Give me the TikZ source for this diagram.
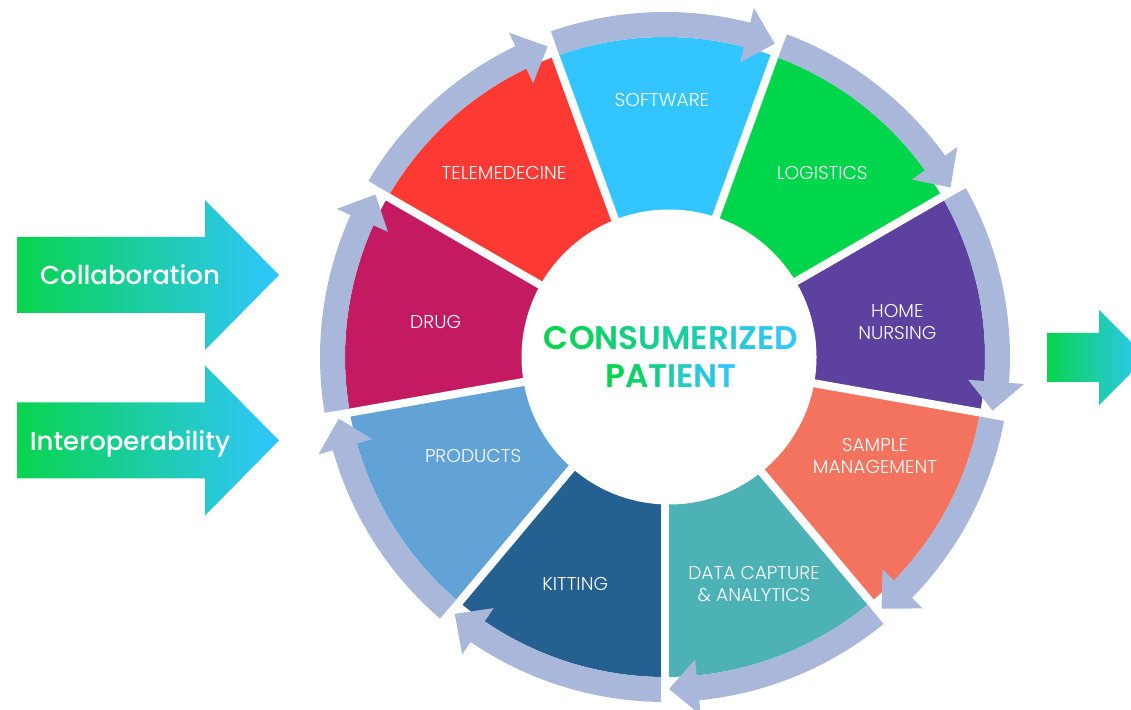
\documentclass[tikz,border=0pt]{standalone}
\usepackage{fontspec}
\setmainfont{Poppins}
\newfontfamily\lightfont{Poppins Light}
\newfontfamily\medfont{Poppins Medium}
\newfontfamily\semifont{Poppins SemiBold}

\definecolor{ring}{RGB}{169,183,219}
\definecolor{ggreen}{RGB}{8,212,78}
\definecolor{gcyan}{RGB}{48,198,255}
\definecolor{csoft}{RGB}{50,197,255}
\definecolor{clogi}{RGB}{0,214,76}
\definecolor{chome}{RGB}{92,66,158}
\definecolor{csamp}{RGB}{243,115,94}
\definecolor{cdata}{RGB}{77,178,182}
\definecolor{ckit}{RGB}{36,97,145}
\definecolor{cprod}{RGB}{97,163,215}
\definecolor{cdrug}{RGB}{195,26,97}
\definecolor{ctele}{RGB}{252,57,50}

\newcommand\fadeword[2]{\foreach \ltr [count=\i, evaluate=\i as \pc using {int((\i-1)*100/#1)}] in {#2}{\textcolor{gcyan!\pc!ggreen}{\ltr}}}

\begin{document}
\begin{tikzpicture} [x=1pt,y=1pt,
  seglabel/.style={text=white,font=\lightfont\fontsize{18.6}{22}\selectfont,align=center},
  bigarrow/.style={left color=ggreen,right color=gcyan},
  arrowtext/.style={text=white,font=\medfont\fontsize{26}{26}\selectfont,anchor=base},
  centertext/.style={font=\semifont\fontsize{32.7}{32.7}\selectfont,anchor=base}]% 1px = 1pt
\useasboundingbox (0,0) rectangle (1131,709);
\clip (0,0) rectangle (1131,709);
\begin{scope}[shift={(665,352)}]
\foreach \b/\col in {110/csoft,70/clogi,30/chome,-10/csamp,-50/cdata,-90/ckit,-130/cprod,-170/cdrug,150/ctele}
  \fill[\col] (0,0) -- (\b:320pt) arc[start angle=\b, delta angle=-40, radius=320pt] -- cycle;
\foreach \b in {30,70,...,350}
  \draw[white,line width=8pt] (0,0) -- (\b:321pt);
\fill[white] (4,0) circle[radius=147.5pt];
% ring arrows, clockwise
\foreach \b in {30,70,...,350}
  \fill[ring] (\b-0.7:345pt) arc[start angle=\b-0.7, end angle=\b-34.3, radius=345pt]
    -- (\b-34.3:360pt) -- (\b-39.3:332pt) -- (\b-34.3:304pt) -- (\b-34.3:320pt)
    arc[start angle=\b-34.3, end angle=\b-0.7, radius=320pt] -- cycle;
\foreach \a/\r/\nm/\txt in {90.7/257/soft/SOFTWARE, 49.5/242/logi/LOGISTICS,
    8.6/235/home/{HOME\\NURSING}, -25.2/232/samp/{SAMPLE\\MANAGEMENT},
    -68.6/244/data/{DATA CAPTURE\\\& ANALYTICS}, -111.6/244/kit/KITTING,
    -152.7/216/prod/PRODUCTS, 171.3/232/drug/DRUG, 131.2/244.5/tele/TELEMEDECINE}
  \node[seglabel] (\nm) at (\a:\r pt) {\txt};
\node[centertext] (consum) at (6,7) {\fadeword{11}{C,O,N,S,U,M,E,R,I,Z,E,D}};
\node[centertext] (patient) at (6,-31) {\fadeword{6}{P,A,T,I,E,N,T}};
\end{scope}
\foreach \yc/\nm/\txt in {434/collab/Collaboration, 268.5/interop/Interoperability}{
  \shade[bigarrow] (17,\yc+38) -- (205,\yc+38) -- (205,\yc+75) -- (279,\yc)
    -- (205,\yc-75) -- (205,\yc-38) -- (17,\yc-38) -- cycle;
  \node[arrowtext] (\nm) at (130,\yc-10) {\txt};
}
\shade[bigarrow] (1047,376) -- (1099,376) -- (1099,399) -- (1146.5,351.5)
  -- (1099,304) -- (1099,327) -- (1047,327) -- cycle;
\end{tikzpicture}
\end{document}
